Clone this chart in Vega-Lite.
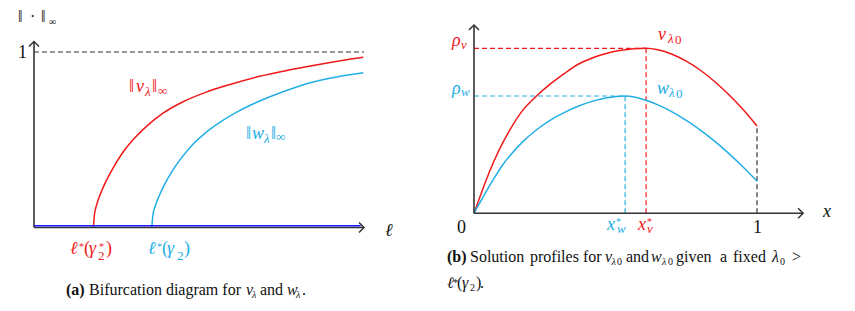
{
"$schema":"https://vega.github.io/schema/vega-lite/v6.json",
"background":"white",
"padding":0,
"spacing":0,
"bounds":"flush",
"config":{"view":{"stroke":null},"concat":{"spacing":0},"text":{"font":"Liberation Serif, Times New Roman, DejaVu Serif, serif"}},
"datasets":{
"curA":[
{"x":0.18,"y":0,"series":"v"},{"x":0.183,"y":0.07,"series":"v"},{"x":0.19,"y":0.13,"series":"v"},{"x":0.2,"y":0.185,"series":"v"},{"x":0.22,"y":0.27,"series":"v"},{"x":0.24,"y":0.34,"series":"v"},{"x":0.27,"y":0.43,"series":"v"},{"x":0.30,"y":0.5,"series":"v"},{"x":0.34,"y":0.575,"series":"v"},{"x":0.39,"y":0.65,"series":"v"},{"x":0.45,"y":0.715,"series":"v"},{"x":0.52,"y":0.77,"series":"v"},{"x":0.594,"y":0.815,"series":"v"},{"x":0.68,"y":0.86,"series":"v"},{"x":0.78,"y":0.9,"series":"v"},{"x":0.88,"y":0.935,"series":"v"},{"x":0.998,"y":0.97,"series":"v"},
{"x":0.357,"y":0,"series":"w"},{"x":0.36,"y":0.065,"series":"w"},{"x":0.367,"y":0.12,"series":"w"},{"x":0.377,"y":0.17,"series":"w"},{"x":0.397,"y":0.25,"series":"w"},{"x":0.417,"y":0.315,"series":"w"},{"x":0.442,"y":0.385,"series":"w"},{"x":0.477,"y":0.465,"series":"w"},{"x":0.517,"y":0.535,"series":"w"},{"x":0.564,"y":0.6,"series":"w"},{"x":0.617,"y":0.66,"series":"w"},{"x":0.677,"y":0.715,"series":"w"},{"x":0.757,"y":0.775,"series":"w"},{"x":0.837,"y":0.825,"series":"w"},{"x":0.917,"y":0.858,"series":"w"},{"x":0.998,"y":0.882,"series":"w"}
],
"segA":[
{"x":0,"y":1,"x2":1.0,"y2":1,"kind":"guide","series":"axis"},
{"x":0,"y":0,"x2":0,"y2":1.06,"kind":"axis","series":"axis"},
{"x":0,"y":0,"x2":1.0,"y2":0,"kind":"axis","series":"axis"},
{"x":0,"y":0.01,"x2":0.99,"y2":0.01,"kind":"trivial","series":"trivial"}
],
"arrA":[
{"x":0,"y":1.06,"dir":"up","series":"axis"},
{"x":1.0,"y":0,"dir":"right","series":"axis"}
],
"tA":[
{"t":"‖","x":-0.0485,"y":1.1681,"kind":"sym","level":"caption","series":"text"},
{"t":"·","x":-0.0121,"y":1.1681,"kind":"sym","level":"caption","series":"text"},
{"t":"‖","x":0.0212,"y":1.1681,"kind":"sym","level":"caption","series":"text"},
{"t":"∞","x":0.0455,"y":1.1538,"kind":"sym","level":"capindex","series":"text"},
{"t":"1","x":-0.0485,"y":0.9658,"kind":"sym","level":"main","series":"text"},
{"t":"‖","x":0.2879,"y":0.7721,"kind":"sym","level":"main","series":"v"},
{"t":"v","x":0.3091,"y":0.7721,"kind":"var","level":"main","series":"v"},
{"t":"λ","x":0.3364,"y":0.7493,"kind":"var","level":"index","series":"v"},
{"t":"‖","x":0.3576,"y":0.7721,"kind":"sym","level":"main","series":"v"},
{"t":"∞","x":0.3758,"y":0.755,"kind":"sym","level":"index","series":"v"},
{"t":"‖","x":0.6424,"y":0.5043,"kind":"sym","level":"main","series":"w"},
{"t":"w","x":0.6606,"y":0.5043,"kind":"var","level":"main","series":"w"},
{"t":"λ","x":0.697,"y":0.4815,"kind":"var","level":"index","series":"w"},
{"t":"‖","x":0.7182,"y":0.5043,"kind":"sym","level":"main","series":"w"},
{"t":"∞","x":0.7333,"y":0.4929,"kind":"sym","level":"index","series":"w"},
{"t":"ℓ","x":1.0636,"y":-0.0484,"kind":"var","level":"main","series":"text"},
{"t":"ℓ","x":0.1091,"y":-0.151,"kind":"var","level":"main","series":"v"},
{"t":"*","x":0.1364,"y":-0.1254,"kind":"sym","level":"capindex","series":"v"},
{"t":"(","x":0.1515,"y":-0.151,"kind":"sym","level":"main","series":"v"},
{"t":"γ","x":0.1667,"y":-0.151,"kind":"var","level":"main","series":"v"},
{"t":"*","x":0.197,"y":-0.1254,"kind":"sym","level":"capindex","series":"v"},
{"t":"2","x":0.1939,"y":-0.1852,"kind":"sym","level":"index","series":"v"},
{"t":")","x":0.2182,"y":-0.151,"kind":"sym","level":"main","series":"v"},
{"t":"ℓ","x":0.3455,"y":-0.151,"kind":"var","level":"main","series":"w"},
{"t":"*","x":0.3727,"y":-0.1254,"kind":"sym","level":"capindex","series":"w"},
{"t":"(","x":0.3879,"y":-0.151,"kind":"sym","level":"main","series":"w"},
{"t":"γ","x":0.403,"y":-0.151,"kind":"var","level":"main","series":"w"},
{"t":"2","x":0.4333,"y":-0.1852,"kind":"sym","level":"index","series":"w"},
{"t":")","x":0.4545,"y":-0.151,"kind":"sym","level":"main","series":"w"},
{"t":"(a)","x":0.097,"y":-0.3846,"kind":"head","level":"caption","series":"text"},
{"t":"Bifurcation diagram for","x":0.1667,"y":-0.3846,"kind":"sym","level":"caption","series":"text"},
{"t":"v","x":0.6424,"y":-0.3846,"kind":"var","level":"caption","series":"text"},
{"t":"λ","x":0.6606,"y":-0.4017,"kind":"var","level":"capindex","series":"text"},
{"t":"and","x":0.6848,"y":-0.3846,"kind":"sym","level":"caption","series":"text"},
{"t":"w","x":0.7667,"y":-0.3846,"kind":"var","level":"caption","series":"text"},
{"t":"λ","x":0.7939,"y":-0.4017,"kind":"var","level":"capindex","series":"text"},
{"t":".","x":0.8121,"y":-0.3846,"kind":"sym","level":"caption","series":"text"}
],
"curB":[
{"x":0,"y":0,"series":"v"},{"x":0.01,"y":0.047,"series":"v"},{"x":0.02,"y":0.094,"series":"v"},{"x":0.04,"y":0.188,"series":"v"},{"x":0.07,"y":0.314,"series":"v"},{"x":0.1,"y":0.422,"series":"v"},{"x":0.13,"y":0.515,"series":"v"},{"x":0.17,"y":0.619,"series":"v"},{"x":0.22,"y":0.709,"series":"v"},{"x":0.27,"y":0.784,"series":"v"},{"x":0.32,"y":0.848,"series":"v"},{"x":0.37,"y":0.905,"series":"v"},{"x":0.42,"y":0.943,"series":"v"},{"x":0.47,"y":0.97,"series":"v"},{"x":0.52,"y":0.988,"series":"v"},{"x":0.565,"y":0.997,"series":"v"},{"x":0.608,"y":1.0,"series":"v"},{"x":0.65,"y":0.991,"series":"v"},{"x":0.7,"y":0.964,"series":"v"},{"x":0.75,"y":0.922,"series":"v"},{"x":0.8,"y":0.867,"series":"v"},{"x":0.85,"y":0.799,"series":"v"},{"x":0.9,"y":0.72,"series":"v"},{"x":0.95,"y":0.63,"series":"v"},{"x":1.0,"y":0.529,"series":"v"},
{"x":0,"y":0,"series":"w"},{"x":0.01,"y":0.031,"series":"w"},{"x":0.02,"y":0.062,"series":"w"},{"x":0.04,"y":0.123,"series":"w"},{"x":0.07,"y":0.21,"series":"w"},{"x":0.1,"y":0.29,"series":"w"},{"x":0.13,"y":0.355,"series":"w"},{"x":0.17,"y":0.43,"series":"w"},{"x":0.22,"y":0.505,"series":"w"},{"x":0.27,"y":0.565,"series":"w"},{"x":0.32,"y":0.612,"series":"w"},{"x":0.37,"y":0.65,"series":"w"},{"x":0.42,"y":0.68,"series":"w"},{"x":0.47,"y":0.7,"series":"w"},{"x":0.534,"y":0.711,"series":"w"},{"x":0.57,"y":0.703,"series":"w"},{"x":0.608,"y":0.685,"series":"w"},{"x":0.65,"y":0.657,"series":"w"},{"x":0.7,"y":0.615,"series":"w"},{"x":0.75,"y":0.563,"series":"w"},{"x":0.8,"y":0.504,"series":"w"},{"x":0.85,"y":0.437,"series":"w"},{"x":0.9,"y":0.363,"series":"w"},{"x":0.95,"y":0.282,"series":"w"},{"x":1.0,"y":0.195,"series":"w"}
],
"segB":[
{"x":0,"y":1,"x2":0.608,"y2":1,"kind":"guide","series":"v"},
{"x":0.608,"y":0,"x2":0.608,"y2":1,"kind":"guide","series":"v"},
{"x":0,"y":0.711,"x2":0.534,"y2":0.711,"kind":"guide","series":"w"},
{"x":0.534,"y":0,"x2":0.534,"y2":0.711,"kind":"guide","series":"w"},
{"x":1,"y":0,"x2":1,"y2":0.529,"kind":"guide","series":"axis"},
{"x":0,"y":0,"x2":0,"y2":1.141,"kind":"axis","series":"axis"},
{"x":0,"y":0,"x2":1.163,"y2":0,"kind":"axis","series":"axis"}
],
"arrB":[
{"x":0,"y":1.141,"dir":"up","series":"axis"},
{"x":1.163,"y":0,"dir":"right","series":"axis"}
],
"tB":[
{"t":"ρ","x":-0.0777,"y":1.0139,"kind":"var","level":"main","series":"v"},
{"t":"v","x":-0.0459,"y":0.9958,"kind":"var","level":"index","series":"v"},
{"t":"ρ","x":-0.0777,"y":0.723,"kind":"var","level":"main","series":"w"},
{"t":"w","x":-0.0459,"y":0.7109,"kind":"var","level":"index","series":"w"},
{"t":"v","x":0.6502,"y":1.0503,"kind":"var","level":"main","series":"v"},
{"t":"λ","x":0.6855,"y":1.0321,"kind":"var","level":"index","series":"v"},
{"t":"0","x":0.7102,"y":1.0261,"kind":"sym","level":"index","series":"v"},
{"t":"w","x":0.6466,"y":0.723,"kind":"var","level":"main","series":"w"},
{"t":"λ","x":0.689,"y":0.7048,"kind":"var","level":"index","series":"w"},
{"t":"0","x":0.7138,"y":0.6988,"kind":"sym","level":"index","series":"w"},
{"t":"0","x":-0.0601,"y":-0.1194,"kind":"sym","level":"main","series":"text"},
{"t":"1","x":0.9859,"y":-0.1194,"kind":"sym","level":"main","series":"text"},
{"t":"x","x":1.2332,"y":-0.0224,"kind":"var","level":"main","series":"text"},
{"t":"x","x":0.47,"y":-0.1012,"kind":"var","level":"main","series":"w"},
{"t":"*","x":0.5018,"y":-0.0679,"kind":"sym","level":"capindex","series":"w"},
{"t":"w","x":0.5053,"y":-0.1194,"kind":"var","level":"index","series":"w"},
{"t":"x","x":0.5795,"y":-0.1012,"kind":"var","level":"main","series":"v"},
{"t":"*","x":0.6113,"y":-0.0679,"kind":"sym","level":"capindex","series":"v"},
{"t":"v","x":0.6113,"y":-0.1194,"kind":"var","level":"index","series":"v"},
{"t":"(b)","x":-0.0954,"y":-0.2952,"kind":"head","level":"caption","series":"text"},
{"t":"Solution","x":-0.0141,"y":-0.2952,"kind":"sym","level":"caption","series":"text"},
{"t":"profiles","x":0.1979,"y":-0.2952,"kind":"sym","level":"caption","series":"text"},
{"t":"for","x":0.3852,"y":-0.2952,"kind":"sym","level":"caption","series":"text"},
{"t":"v","x":0.4629,"y":-0.2952,"kind":"var","level":"caption","series":"text"},
{"t":"λ","x":0.4859,"y":-0.3133,"kind":"var","level":"capindex","series":"text"},
{"t":"0","x":0.5053,"y":-0.3133,"kind":"sym","level":"capindex","series":"text"},
{"t":"and","x":0.5371,"y":-0.2952,"kind":"sym","level":"caption","series":"text"},
{"t":"w","x":0.6254,"y":-0.2952,"kind":"var","level":"caption","series":"text"},
{"t":"λ","x":0.6643,"y":-0.3133,"kind":"var","level":"capindex","series":"text"},
{"t":"0","x":0.6855,"y":-0.3133,"kind":"sym","level":"capindex","series":"text"},
{"t":"given","x":0.7138,"y":-0.2952,"kind":"sym","level":"caption","series":"text"},
{"t":"a","x":0.8693,"y":-0.2952,"kind":"sym","level":"caption","series":"text"},
{"t":"fixed","x":0.9152,"y":-0.2952,"kind":"sym","level":"caption","series":"text"},
{"t":"λ","x":1.053,"y":-0.2952,"kind":"var","level":"caption","series":"text"},
{"t":"0","x":1.0813,"y":-0.3133,"kind":"sym","level":"capindex","series":"text"},
{"t":">","x":1.1237,"y":-0.2952,"kind":"sym","level":"caption","series":"text"},
{"t":"ℓ","x":-0.0954,"y":-0.4527,"kind":"var","level":"caption","series":"text"},
{"t":"*","x":-0.0742,"y":-0.4406,"kind":"sym","level":"capindex","series":"text"},
{"t":"(","x":-0.0601,"y":-0.4527,"kind":"sym","level":"caption","series":"text"},
{"t":"γ","x":-0.0424,"y":-0.4527,"kind":"var","level":"caption","series":"text"},
{"t":"2","x":-0.0141,"y":-0.4709,"kind":"sym","level":"capindex","series":"text"},
{"t":")","x":0.0071,"y":-0.4527,"kind":"sym","level":"caption","series":"text"},
{"t":".","x":0.0212,"y":-0.4527,"kind":"sym","level":"caption","series":"text"}
]
},
"hconcat":[
{
"width":430,"height":311,
"encoding":{
"x":{"field":"x","type":"quantitative","scale":{"domain":[-0.10303,1.2],"nice":false,"zero":false},"axis":null},
"y":{"field":"y","type":"quantitative","scale":{"domain":[-0.4758,1.2963],"nice":false,"zero":false},"axis":null},
"color":{"field":"series","type":"nominal","scale":{"domain":["v","w","axis","trivial","text"],"range":["#f01818","#22aee6","#333333","#1a1aff","#111111"]},"legend":null}
},
"layer":[
{"data":{"name":"segA"},"transform":[{"filter":"datum.kind==='guide'"}],"mark":{"type":"rule","strokeDash":[5,3],"strokeWidth":1.2},"encoding":{"x2":{"field":"x2"},"y2":{"field":"y2"}}},
{"data":{"name":"curA"},"mark":{"type":"line","interpolate":"monotone","strokeWidth":1.5},"encoding":{}},
{"data":{"name":"segA"},"transform":[{"filter":"datum.kind==='axis'"}],"mark":{"type":"rule","strokeWidth":1.6},"encoding":{"x2":{"field":"x2"},"y2":{"field":"y2"}}},
{"data":{"name":"segA"},"transform":[{"filter":"datum.kind==='trivial'"}],"mark":{"type":"rule","strokeWidth":1.3},"encoding":{"x2":{"field":"x2"},"y2":{"field":"y2"}}},
{"data":{"name":"arrA"},"transform":[{"filter":"datum.dir==='up'"}],"mark":{"type":"point","shape":"M-1,1L0,0L1,1","size":100,"filled":false,"strokeWidth":1.5,"opacity":1}},
{"data":{"name":"arrA"},"transform":[{"filter":"datum.dir==='right'"}],"mark":{"type":"point","shape":"M-1,-1L0,0L-1,1","size":100,"filled":false,"strokeWidth":1.5,"opacity":1}},
{"data":{"name":"tA"},"transform":[{"filter":"datum.kind==='sym'&&datum.level==='main'"}],"mark":{"type":"text","fontSize":18,"align":"left","baseline":"alphabetic"},"encoding":{"text":{"field":"t"}}},
{"data":{"name":"tA"},"transform":[{"filter":"datum.kind==='sym'&&datum.level==='index'"}],"mark":{"type":"text","fontSize":13,"align":"left","baseline":"alphabetic"},"encoding":{"text":{"field":"t"}}},
{"data":{"name":"tA"},"transform":[{"filter":"datum.kind==='sym'&&datum.level==='caption'"}],"mark":{"type":"text","fontSize":16,"align":"left","baseline":"alphabetic"},"encoding":{"text":{"field":"t"}}},
{"data":{"name":"tA"},"transform":[{"filter":"datum.kind==='sym'&&datum.level==='capindex'"}],"mark":{"type":"text","fontSize":10,"align":"left","baseline":"alphabetic"},"encoding":{"text":{"field":"t"}}},
{"data":{"name":"tA"},"transform":[{"filter":"datum.kind==='var'&&datum.level==='main'"}],"mark":{"type":"text","fontStyle":"italic","fontSize":18,"align":"left","baseline":"alphabetic"},"encoding":{"text":{"field":"t"}}},
{"data":{"name":"tA"},"transform":[{"filter":"datum.kind==='var'&&datum.level==='index'"}],"mark":{"type":"text","fontStyle":"italic","fontSize":13,"align":"left","baseline":"alphabetic"},"encoding":{"text":{"field":"t"}}},
{"data":{"name":"tA"},"transform":[{"filter":"datum.kind==='var'&&datum.level==='caption'"}],"mark":{"type":"text","fontStyle":"italic","fontSize":16,"align":"left","baseline":"alphabetic"},"encoding":{"text":{"field":"t"}}},
{"data":{"name":"tA"},"transform":[{"filter":"datum.kind==='var'&&datum.level==='capindex'"}],"mark":{"type":"text","fontStyle":"italic","fontSize":10,"align":"left","baseline":"alphabetic"},"encoding":{"text":{"field":"t"}}},
{"data":{"name":"tA"},"transform":[{"filter":"datum.kind==='head'"}],"mark":{"type":"text","fontWeight":"bold","fontSize":16,"align":"left","baseline":"alphabetic"},"encoding":{"text":{"field":"t"}}}
]
},
{
"width":425,"height":311,
"encoding":{
"x":{"field":"x","type":"quantitative","scale":{"domain":[-0.15548,1.34629],"nice":false,"zero":false},"axis":null},
"y":{"field":"y","type":"quantitative","scale":{"domain":[-0.59212,1.29273],"nice":false,"zero":false},"axis":null},
"color":{"field":"series","type":"nominal","scale":{"domain":["v","w","axis","trivial","text"],"range":["#f01818","#22aee6","#333333","#1a1aff","#111111"]},"legend":null}
},
"layer":[
{"data":{"name":"segB"},"transform":[{"filter":"datum.kind==='guide'"}],"mark":{"type":"rule","strokeDash":[5,3],"strokeWidth":1.2},"encoding":{"x2":{"field":"x2"},"y2":{"field":"y2"}}},
{"data":{"name":"curB"},"mark":{"type":"line","interpolate":"monotone","strokeWidth":1.5},"encoding":{}},
{"data":{"name":"segB"},"transform":[{"filter":"datum.kind==='axis'"}],"mark":{"type":"rule","strokeWidth":1.6},"encoding":{"x2":{"field":"x2"},"y2":{"field":"y2"}}},
{"data":{"name":"arrB"},"transform":[{"filter":"datum.dir==='up'"}],"mark":{"type":"point","shape":"M-1,1L0,0L1,1","size":100,"filled":false,"strokeWidth":1.5,"opacity":1}},
{"data":{"name":"arrB"},"transform":[{"filter":"datum.dir==='right'"}],"mark":{"type":"point","shape":"M-1,-1L0,0L-1,1","size":100,"filled":false,"strokeWidth":1.5,"opacity":1}},
{"data":{"name":"tB"},"transform":[{"filter":"datum.kind==='sym'&&datum.level==='main'"}],"mark":{"type":"text","fontSize":18,"align":"left","baseline":"alphabetic"},"encoding":{"text":{"field":"t"}}},
{"data":{"name":"tB"},"transform":[{"filter":"datum.kind==='sym'&&datum.level==='index'"}],"mark":{"type":"text","fontSize":13,"align":"left","baseline":"alphabetic"},"encoding":{"text":{"field":"t"}}},
{"data":{"name":"tB"},"transform":[{"filter":"datum.kind==='sym'&&datum.level==='caption'"}],"mark":{"type":"text","fontSize":16,"align":"left","baseline":"alphabetic"},"encoding":{"text":{"field":"t"}}},
{"data":{"name":"tB"},"transform":[{"filter":"datum.kind==='sym'&&datum.level==='capindex'"}],"mark":{"type":"text","fontSize":10,"align":"left","baseline":"alphabetic"},"encoding":{"text":{"field":"t"}}},
{"data":{"name":"tB"},"transform":[{"filter":"datum.kind==='var'&&datum.level==='main'"}],"mark":{"type":"text","fontStyle":"italic","fontSize":18,"align":"left","baseline":"alphabetic"},"encoding":{"text":{"field":"t"}}},
{"data":{"name":"tB"},"transform":[{"filter":"datum.kind==='var'&&datum.level==='index'"}],"mark":{"type":"text","fontStyle":"italic","fontSize":13,"align":"left","baseline":"alphabetic"},"encoding":{"text":{"field":"t"}}},
{"data":{"name":"tB"},"transform":[{"filter":"datum.kind==='var'&&datum.level==='caption'"}],"mark":{"type":"text","fontStyle":"italic","fontSize":16,"align":"left","baseline":"alphabetic"},"encoding":{"text":{"field":"t"}}},
{"data":{"name":"tB"},"transform":[{"filter":"datum.kind==='var'&&datum.level==='capindex'"}],"mark":{"type":"text","fontStyle":"italic","fontSize":10,"align":"left","baseline":"alphabetic"},"encoding":{"text":{"field":"t"}}},
{"data":{"name":"tB"},"transform":[{"filter":"datum.kind==='head'"}],"mark":{"type":"text","fontWeight":"bold","fontSize":16,"align":"left","baseline":"alphabetic"},"encoding":{"text":{"field":"t"}}}
]
}
]
}
